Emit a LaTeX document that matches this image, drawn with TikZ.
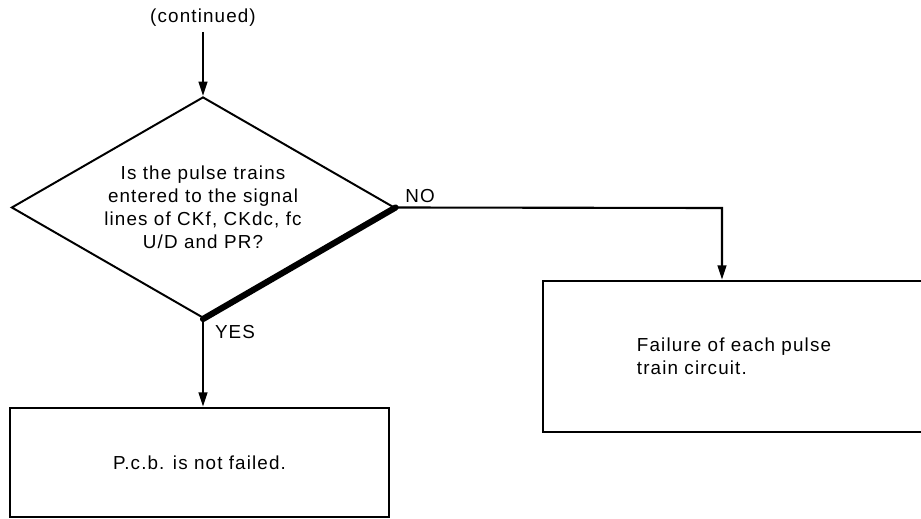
\documentclass[tikz,border=0pt]{standalone}
\usepackage{fontspec}
\setmainfont[LetterSpace=6]{Liberation Sans}
\usetikzlibrary{positioning,shapes.geometric,arrows.meta}
\tikzset{
  flowline/.style={line width=1.5pt,-{Triangle[length=3.6mm,width=2.2mm]}},
  decbox/.style={diamond,aspect=1.733,draw,line width=1.4pt,minimum width=9.575cm,minimum height=5.525cm,inner sep=0pt,align=center},
  actbox/.style={rectangle,draw,line width=1.8pt,inner sep=0pt},
  txt/.style={font=\fontsize{13.4}{16.3}\selectfont}
}

\begin{document}
\begin{tikzpicture}[x=0.025cm,y=-0.025cm,every node/.style={txt}]
	\useasboundingbox (0,0) rectangle (921,519);
	\node (cont) at (203,18) {(continued)};
	\node[decbox] (dec) at (203,207.5) {Is the pulse trains\\entered to the signal\\lines of CKf, CKdc, fc\\U/D and PR?};
	\draw[line width=4.4pt,line cap=round] (dec.east)--(dec.south);
	\node[actbox,minimum width=9.475cm,minimum height=2.725cm] (pcb) at (199.5,462.5) {P.c.b. is not failed.};
	\node[actbox,minimum width=9.55cm,minimum height=3.775cm,align=left] (fail) at (734,356.5) {Failure of each pulse\\train circuit.};
	\coordinate (noturn) at (722,208);
	\draw[flowline] (203,32)--(dec.north);
	\draw[flowline] (dec.east)--(noturn)--(noturn |- fail.north);
	\draw[flowline] (dec.south)--(dec.south |- pcb.north);
	\node (no) at (420,196) {NO};
	\node (yes) at (235,332) {YES};
\end{tikzpicture}
\end{document}
